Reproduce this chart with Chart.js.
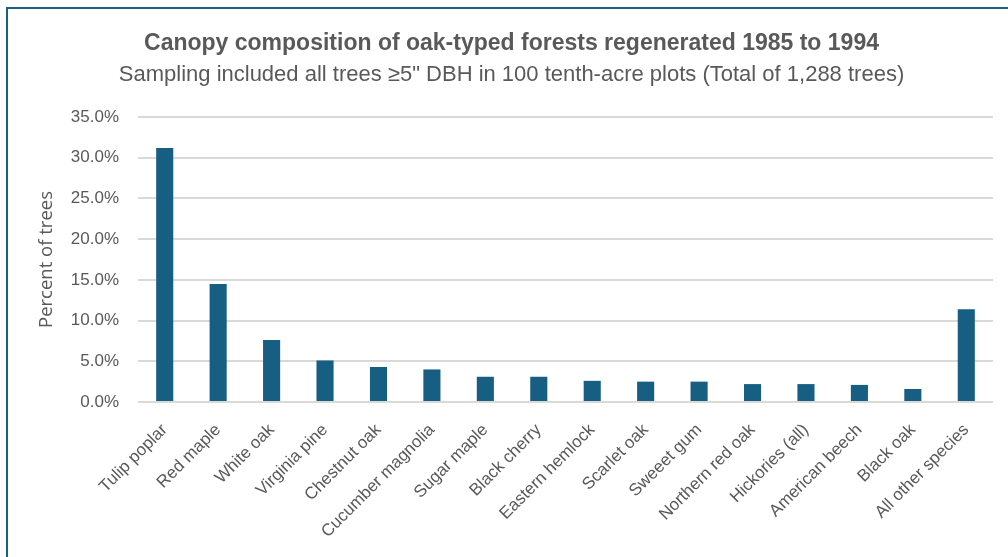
<!DOCTYPE html>
<html>
<head>
<meta charset="utf-8">
<script src="https://cdn.jsdelivr.net/npm/chart.js@4"></script>
<style>
  html, body { margin: 0; padding: 0; background: #ffffff; }
  #wrap { position: relative; width: 1008px; height: 557px; overflow: hidden; }
  #frame { position: absolute; left: 6px; top: 7px; right: -4px; bottom: -4px;
           border-left: 2px solid #1b5f84; border-top: 2px solid #1b5f84; pointer-events: none; }
  canvas { position: absolute; left: 0; top: 0; }
</style>
</head>
<body>
<div id="wrap">
  <canvas id="chart" width="1008" height="557"></canvas>
  <div id="frame"></div>
</div>
<script>
// Share of canopy trees by species (percent of 1,288 trees)
const species = [
  "Tulip poplar", "Red maple", "White oak", "Virginia pine", "Chestnut oak",
  "Cucumber magnolia", "Sugar maple", "Black cherry", "Eastern hemlock",
  "Scarlet oak", "Sweeet gum", "Northern red oak", "Hickories (all)",
  "American beech", "Black oak", "All other species"
];
const percentOfTrees = [31.2, 14.5, 7.6, 5.1, 4.3, 4.0, 3.1, 3.1, 2.6, 2.5, 2.5, 2.2, 2.2, 2.1, 1.6, 11.4];
const yTicks = [0, 5, 10, 15, 20, 25, 30, 35];

const titleText = "Canopy composition of oak-typed forests regenerated 1985 to 1994";
const subtitleText = "Sampling included all trees \u22655\" DBH in 100 tenth-acre plots (Total of 1,288 trees)";

const grey = "#595959";
const barColor = "#175e83";
const sans = "'Liberation Sans', Arial, sans-serif";

new Chart(document.getElementById("chart"), {
  type: "bar",
  data: {
    labels: species,
    datasets: [{
      data: percentOfTrees,
      backgroundColor: barColor,
      borderWidth: 0,
      categoryPercentage: 1.0,
      barPercentage: 0.32
    }]
  },
  options: {
    responsive: false,
    animation: false,
    devicePixelRatio: 1,
    layout: { padding: { left: 30, right: 15, top: 0, bottom: 0 } },
    plugins: {
      legend: { display: false },
      tooltip: { enabled: false },
      title: {
        display: true,
        text: titleText,
        color: grey,
        font: { family: sans, size: 23, weight: "bold" },
        padding: { top: 30, bottom: 4 }
      },
      subtitle: {
        display: true,
        text: subtitleText,
        color: grey,
        font: { family: sans, size: 22 },
        padding: { top: 0, bottom: 29 }
      }
    },
    scales: {
      y: {
        min: 0,
        max: 35,
        afterBuildTicks: (scale) => { scale.ticks = yTicks.map(v => ({ value: v })); },
        afterFit: (scale) => { scale.width = 108; },
        border: { display: false },
        grid: { color: "#d9d9d9", lineWidth: 2, drawTicks: false },
        ticks: {
          color: grey,
          padding: 19,
          font: { family: sans, size: 17 },
          callback: (v) => Number(v).toFixed(1) + "%"
        },
        title: {
          display: true,
          text: "Percent of trees",
          color: grey,
          font: { family: "'Open Sans', sans-serif", size: 18.5 },
          padding: { top: 6, bottom: 0 }
        }
      },
      x: {
        afterFit: (scale) => { scale.height = 155; },
        border: { display: false },
        grid: { display: false, drawTicks: false },
        ticks: {
          color: grey,
          padding: 18,
          minRotation: 45,
          maxRotation: 45,
          autoSkip: false,
          font: { family: sans, size: 17 }
        }
      }
    }
  }
});
</script>
</body>
</html>
